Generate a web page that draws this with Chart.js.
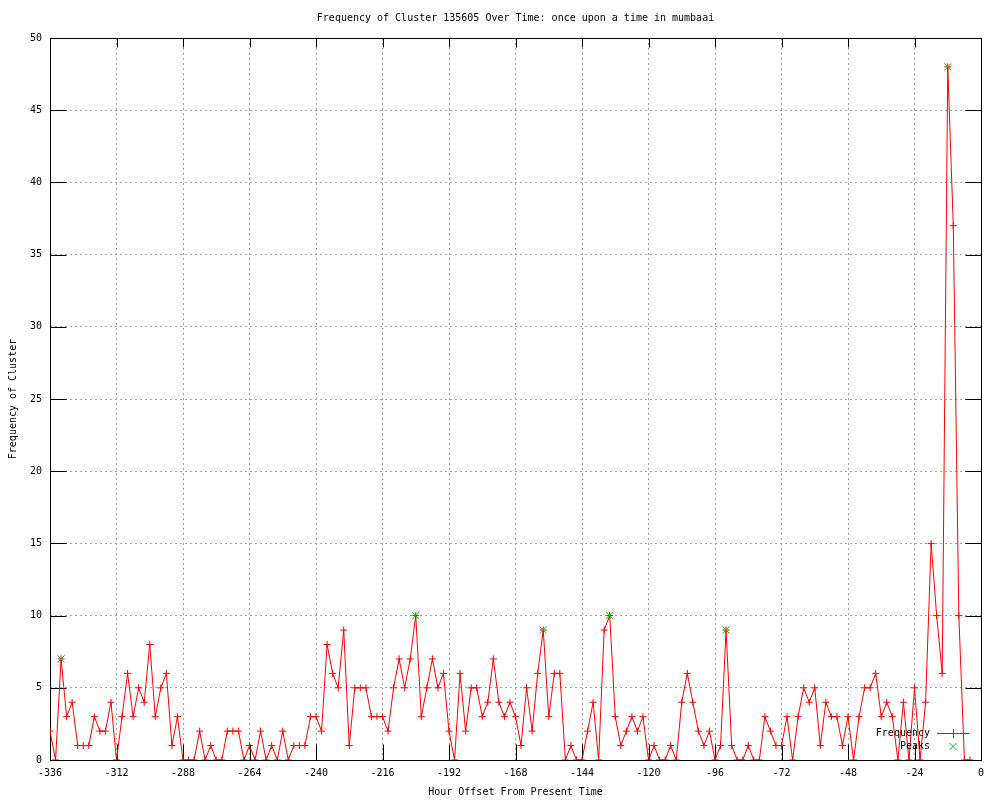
<!DOCTYPE html>
<html>
<head>
<meta charset="utf-8">
<title>Frequency of Cluster 135605</title>
<script src="https://cdn.jsdelivr.net/npm/chart.js@4.4.1/dist/chart.umd.min.js"></script>
<style>
  body { margin: 0; background: #fff; }
  #wrap { width: 1000px; height: 800px; }
</style>
</head>
<body>
<div id="wrap"><canvas id="myChart" width="1000" height="800"></canvas></div>
<script>
// hour offsets start at -336 and go up in steps of 2
var hourStart = -336;
var hourStep = 2;

// frequency per 2 hour bucket (-336 .. -4)
var frequency = [
    2, 0, 7, 3, 4, 1, 1, 1, 3, 2, 2, 4, 0, 3, 6, 3, 5, 4, 8, 3,
    5, 6, 1, 3, 0, 0, 0, 2, 0, 1, 0, 0, 2, 2, 2, 0, 1, 0, 2, 0,
    1, 0, 2, 0, 1, 1, 1, 3, 3, 2, 8, 6, 5, 9, 1, 5, 5, 5, 3, 3,
    3, 2, 5, 7, 5, 7, 10, 3, 5, 7, 5, 6, 2, 0, 6, 2, 5, 5, 3, 4,
    7, 4, 3, 4, 3, 1, 5, 2, 6, 9, 3, 6, 6, 0, 1, 0, 0, 2, 4, 0,
    9, 10, 3, 1, 2, 3, 2, 3, 0, 1, 0, 0, 1, 0, 4, 6, 4, 2, 1, 2,
    0, 1, 9, 1, 0, 0, 1, 0, 0, 3, 2, 1, 1, 3, 0, 3, 5, 4, 5, 1,
    4, 3, 3, 1, 3, 0, 3, 5, 5, 6, 3, 4, 3, 0, 4, 0, 5, 0, 4, 15,
    10, 6, 48, 37, 10, 0, 0
];

// detected peaks
var peakHours = [-332, -204, -158, -134, -92, -12];
var peakValues = [7, 10, 9, 10, 9, 48];

var xTickStep = 24;
var yTickStep = 5;

var FONT = 'DejaVu Sans Mono';
var RED = '#ff0000';
var GREEN = '#00c000';

function freqPoints() {
    var pts = [];
    for (var i = 0; i < frequency.length; i++) {
        pts.push({x: hourStart + i * hourStep, y: frequency[i]});
    }
    return pts;
}

function peakPoints() {
    var pts = [];
    for (var i = 0; i < peakHours.length; i++) {
        pts.push({x: peakHours[i], y: peakValues[i]});
    }
    return pts;
}

// gnuplot style frame: full box with ticks on all four sides
var frameTicks = {
    id: 'frameTicks',
    beforeDatasetsDraw: function(chart) {
        var ctx = chart.ctx, a = chart.chartArea;
        var xs = chart.scales.x, ys = chart.scales.y;
        var L = Math.round(a.left) + 0.5, R = Math.round(a.right) + 0.5;
        var T = Math.round(a.top) + 0.5, B = Math.round(a.bottom) + 0.5;
        var len = 16, topLen = 9;
        ctx.save();
        ctx.strokeStyle = '#000';
        ctx.lineWidth = 1;
        ctx.setLineDash([]);
        ctx.beginPath();
        xs.ticks.forEach(function(t) {
            var px = Math.round(xs.getPixelForValue(t.value)) + 0.5;
            ctx.moveTo(px, B); ctx.lineTo(px, B - len);
            ctx.moveTo(px, T); ctx.lineTo(px, T + topLen);
        });
        ys.ticks.forEach(function(t) {
            var py = Math.round(ys.getPixelForValue(t.value)) + 0.5;
            ctx.moveTo(L, py); ctx.lineTo(L + len, py);
            ctx.moveTo(R, py); ctx.lineTo(R - len, py);
        });
        ctx.stroke();
        ctx.strokeRect(L, T, R - L, B - T);
        ctx.restore();
    }
};

// key drawn inside the plot, bottom right, text before sample
var keyRows = [
    {label: 'Frequency', color: RED, line: true, mark: 'plus'},
    {label: 'Peaks', color: GREEN, line: false, mark: 'x'}
];

var insideKey = {
    id: 'insideKey',
    afterDatasetsDraw: function(chart) {
        var ctx = chart.ctx, a = chart.chartArea;
        var textRight = a.right - 51;
        var x0 = a.right - 44, x1 = a.right - 12, xm = a.right - 28;
        var rows = [a.bottom - 27, a.bottom - 14];
        ctx.save();
        ctx.setLineDash([]);
        ctx.font = '10px "' + FONT + '"';
        ctx.textAlign = 'right';
        ctx.textBaseline = 'middle';
        ctx.lineWidth = 1;
        keyRows.forEach(function(k, i) {
            var y = Math.round(rows[i]);
            ctx.fillStyle = '#000';
            ctx.fillText(k.label, textRight, rows[i]);
            ctx.fillStyle = k.color;
            if (k.line) {
                ctx.fillRect(Math.round(x0), y, Math.round(x1 - x0), 1);
            }
            if (k.mark === 'plus') {
                ctx.fillRect(Math.round(xm) - 3, y, 7, 1);
                ctx.fillRect(Math.round(xm), y - 4, 1, 9);
            } else {
                ctx.strokeStyle = k.color;
                ctx.beginPath();
                ctx.moveTo(xm - 3.5, y - 3); ctx.lineTo(xm + 3.5, y + 4);
                ctx.moveTo(xm - 3.5, y + 4); ctx.lineTo(xm + 3.5, y - 3);
                ctx.stroke();
            }
        });
        ctx.restore();
    }
};

var ctx = document.getElementById('myChart').getContext('2d');
var myChart = new Chart(ctx, {
    type: 'scatter',
    data: {
        datasets: [{
            label: 'Frequency',
            data: freqPoints(),
            showLine: true,
            borderColor: RED,
            backgroundColor: RED,
            borderWidth: 1,
            pointStyle: 'cross',
            pointRadius: 3.5,
            pointBorderWidth: 1,
            tension: 0,
            order: 1
        }, {
            label: 'Peaks',
            data: peakPoints(),
            showLine: false,
            borderColor: GREEN,
            backgroundColor: GREEN,
            pointStyle: 'crossRot',
            pointRadius: 5,
            pointBorderWidth: 1,
            order: 0
        }]
    },
    options: {
        responsive: false,
        animation: false,
        events: [],
        layout: { padding: { left: 0, right: 19, top: 0, bottom: 0 } },
        scales: {
            x: {
                type: 'linear',
                min: hourStart,
                max: 0,
                afterFit: function(s) { s.height = 40; },
                border: { display: false, dash: [2, 3] },
                grid: { color: '#a0a0a0', lineWidth: 1, drawTicks: false },
                ticks: {
                    stepSize: xTickStep,
                    autoSkip: false,
                    maxRotation: 0,
                    padding: 7,
                    color: '#000',
                    font: { family: FONT, size: 10 }
                },
                title: {
                    display: true,
                    text: 'Hour Offset From Present Time',
                    color: '#000',
                    font: { family: FONT, size: 10 },
                    padding: { top: 0, bottom: 2 }
                }
            },
            y: {
                min: 0,
                max: 50,
                afterFit: function(s) { s.width = 50; },
                border: { display: false, dash: [2, 3] },
                grid: { color: '#a0a0a0', lineWidth: 1, drawTicks: false },
                ticks: {
                    stepSize: yTickStep,
                    padding: 8,
                    color: '#000',
                    font: { family: FONT, size: 10 }
                },
                title: {
                    display: true,
                    text: 'Frequency of Cluster',
                    color: '#000',
                    font: { family: FONT, size: 10 },
                    padding: { top: 7, bottom: 0 }
                }
            }
        },
        plugins: {
            legend: { display: false },
            tooltip: { enabled: false },
            title: {
                display: true,
                fullSize: false,
                text: 'Frequency of Cluster 135605 Over Time: once upon a time in mumbaai',
                color: '#000',
                font: { family: FONT, size: 10, weight: 'normal' },
                padding: { top: 12, bottom: 14 }
            }
        }
    },
    plugins: [frameTicks, insideKey]
});
</script>
</body>
</html>
